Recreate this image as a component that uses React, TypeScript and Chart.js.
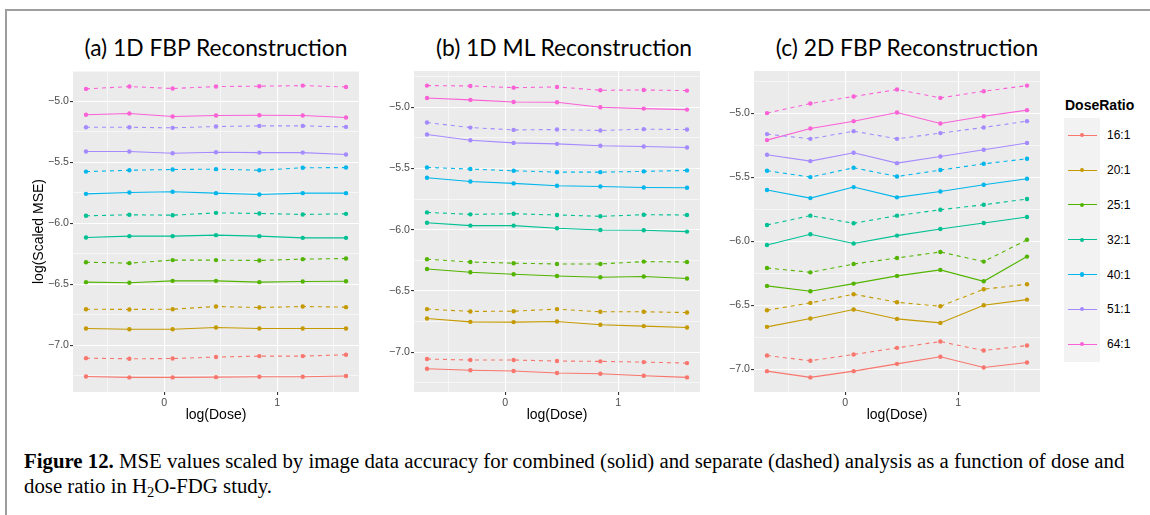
import React, { useEffect, useRef } from "react";
import { Chart, registerables } from "chart.js";

Chart.register(...registerables);

// Dose levels on the log scale (shared by all three reconstructions)
const logDose = [-0.693, -0.309, 0.074, 0.458, 0.842, 1.226, 1.609];

const doseRatios = ["16:1", "20:1", "25:1", "32:1", "40:1", "51:1", "64:1"];
const ratioColors = ["#F8766D", "#C49A00", "#53B400", "#00C094", "#00B6EB", "#A58AFF", "#FB61D7"];

// log(scaled MSE), one row per dose ratio (16:1 ... 64:1), one column per dose
// (a) 1D FBP reconstruction
const fbp1dCombined = [
  [-7.257, -7.265, -7.265, -7.263, -7.26, -7.26, -7.254],
  [-6.863, -6.869, -6.869, -6.855, -6.863, -6.863, -6.863],
  [-6.483, -6.488, -6.472, -6.472, -6.483, -6.477, -6.475],
  [-6.116, -6.105, -6.105, -6.097, -6.105, -6.119, -6.119],
  [-5.758, -5.747, -5.741, -5.752, -5.763, -5.752, -5.752],
  [-5.41, -5.41, -5.424, -5.416, -5.419, -5.419, -5.435],
  [-5.109, -5.098, -5.123, -5.115, -5.112, -5.115, -5.131],
];
const fbp1dSeparate = [
  [-7.107, -7.112, -7.11, -7.098, -7.09, -7.09, -7.079],
  [-6.705, -6.707, -6.705, -6.683, -6.691, -6.683, -6.688],
  [-6.319, -6.327, -6.302, -6.302, -6.305, -6.294, -6.289],
  [-5.938, -5.93, -5.933, -5.914, -5.919, -5.927, -5.922],
  [-5.575, -5.564, -5.558, -5.555, -5.564, -5.544, -5.542],
  [-5.211, -5.211, -5.216, -5.205, -5.2, -5.2, -5.208],
  [-4.896, -4.877, -4.893, -4.877, -4.874, -4.869, -4.88],
];

// (b) 1D ML reconstruction
const ml1dCombined = [
  [-7.136, -7.149, -7.155, -7.171, -7.177, -7.193, -7.207],
  [-6.726, -6.753, -6.755, -6.75, -6.777, -6.788, -6.799],
  [-6.321, -6.348, -6.364, -6.378, -6.389, -6.383, -6.399],
  [-5.943, -5.967, -5.967, -5.989, -6.003, -6.005, -6.016],
  [-5.576, -5.606, -5.622, -5.641, -5.647, -5.655, -5.658],
  [-5.223, -5.269, -5.291, -5.299, -5.315, -5.321, -5.329],
  [-4.924, -4.94, -4.957, -4.959, -5.0, -5.011, -5.019],
];
const ml1dSeparate = [
  [-7.057, -7.065, -7.065, -7.073, -7.076, -7.082, -7.09],
  [-6.649, -6.668, -6.666, -6.649, -6.671, -6.671, -6.677],
  [-6.242, -6.264, -6.274, -6.28, -6.28, -6.261, -6.264],
  [-5.859, -5.875, -5.87, -5.88, -5.891, -5.878, -5.88],
  [-5.492, -5.505, -5.519, -5.53, -5.53, -5.524, -5.516],
  [-5.125, -5.166, -5.185, -5.182, -5.19, -5.179, -5.182],
  [-4.823, -4.826, -4.84, -4.834, -4.861, -4.859, -4.864],
];

// (c) 2D FBP reconstruction
const fbp2dCombined = [
  [-7.013, -7.062, -7.013, -6.956, -6.901, -6.984, -6.945],
  [-6.667, -6.602, -6.532, -6.605, -6.636, -6.498, -6.454],
  [-6.347, -6.389, -6.329, -6.269, -6.222, -6.311, -6.118],
  [-6.027, -5.944, -6.016, -5.954, -5.902, -5.856, -5.809],
  [-5.598, -5.661, -5.575, -5.655, -5.609, -5.557, -5.51],
  [-5.322, -5.372, -5.307, -5.388, -5.336, -5.283, -5.231],
  [-5.208, -5.117, -5.06, -4.992, -5.078, -5.021, -4.974],
];
const fbp2dSeparate = [
  [-6.891, -6.932, -6.883, -6.831, -6.782, -6.852, -6.813],
  [-6.537, -6.48, -6.412, -6.475, -6.506, -6.373, -6.334],
  [-6.207, -6.241, -6.176, -6.129, -6.082, -6.157, -5.987],
  [-5.871, -5.798, -5.858, -5.798, -5.752, -5.713, -5.668],
  [-5.447, -5.497, -5.424, -5.492, -5.442, -5.393, -5.354],
  [-5.161, -5.198, -5.138, -5.198, -5.153, -5.109, -5.06],
  [-4.997, -4.922, -4.867, -4.813, -4.878, -4.826, -4.782],
];

const panelTitles = ["(a) 1D FBP Reconstruction", "(b) 1D ML Reconstruction", "(c) 2D FBP Reconstruction"];

const SANS = '"Liberation Sans", Arial, sans-serif';

// 5% padding on each side of the data range
function expandRange(values: number[]): [number, number] {
  const lo = Math.min(...values);
  const hi = Math.max(...values);
  const pad = (hi - lo) * 0.05;
  return [lo - pad, hi + pad];
}

const near = (v: number, step: number) => Math.abs(v / step - Math.round(v / step)) < 1e-6;

const panelBackground = {
  id: "panelBackground",
  beforeDraw(chart: any) {
    const { ctx, chartArea } = chart;
    ctx.save();
    ctx.fillStyle = "#ebebeb";
    ctx.fillRect(chartArea.left, chartArea.top, chartArea.width, chartArea.height);
    ctx.restore();
  },
};

function buildChart(
  canvas: HTMLCanvasElement,
  combined: number[][],
  separate: number[][],
  axisWidth: number,
  yTitle: string | null
) {
  const [xMin, xMax] = expandRange(logDose);
  const [yMin, yMax] = expandRange([...combined.flat(), ...separate.flat()]);

  const datasets: any[] = [];
  doseRatios.forEach((label, i) => {
    const color = ratioColors[i];
    const common = {
      borderColor: color,
      backgroundColor: color,
      pointBackgroundColor: color,
      pointBorderWidth: 0,
      pointRadius: 2.2,
      borderWidth: 1.1,
      tension: 0,
      showLine: true,
    };
    datasets.push({
      ...common,
      label: `${label} combined`,
      data: logDose.map((x, j) => ({ x, y: combined[i][j] })),
    });
    datasets.push({
      ...common,
      label: `${label} separate`,
      borderDash: [4, 4],
      data: logDose.map((x, j) => ({ x, y: separate[i][j] })),
    });
  });

  const gridFor = (step: number) => ({
    color: "#ffffff",
    lineWidth: (c: any) => (c.tick && near(c.tick.value, step) ? 1.1 : 0.55),
    tickColor: (c: any) => (c.tick && near(c.tick.value, step) ? "#333333" : "rgba(0,0,0,0)"),
    tickWidth: 1.1,
    tickLength: 3,
    drawTicks: true,
  });

  return new Chart(canvas, {
    type: "line",
    data: { datasets },
    plugins: [panelBackground],
    options: {
      animation: false,
      responsive: false,
      maintainAspectRatio: false,
      layout: { padding: { top: 11, right: 0, bottom: 0, left: 0 } },
      plugins: { legend: { display: false }, tooltip: { enabled: false } },
      scales: {
        x: {
          type: "linear",
          min: xMin,
          max: xMax,
          border: { display: false },
          grid: gridFor(1),
          ticks: {
            stepSize: 0.5,
            includeBounds: false,
            autoSkip: false,
            maxRotation: 0,
            maxTicksLimit: 100,
            padding: 2,
            color: "#4d4d4d",
            font: { family: SANS, size: 10.6 },
            callback: (v: any) => (near(Number(v), 1) ? String(Math.round(Number(v))) : ""),
          },
          title: {
            display: true,
            text: "log(Dose)",
            color: "#000000",
            font: { family: SANS, size: 14 },
            padding: { top: 0, bottom: 0 },
          },
          afterFit: (s: any) => {
            s.height = 32;
          },
        },
        y: {
          type: "linear",
          min: yMin,
          max: yMax,
          border: { display: false },
          grid: gridFor(0.5),
          ticks: {
            stepSize: 0.25,
            includeBounds: false,
            autoSkip: false,
            maxTicksLimit: 100,
            padding: 1,
            color: "#4d4d4d",
            font: { family: SANS, size: 10.6 },
            callback: (v: any) =>
              near(Number(v), 0.5) ? Number(v).toFixed(1).replace("-", "\u2212") : "",
          },
          title: yTitle
            ? {
                display: true,
                text: yTitle,
                color: "#000000",
                font: { family: SANS, size: 14 },
                padding: { top: 10.6, bottom: 0 },
              }
            : { display: false },
          afterFit: (s: any) => {
            s.width = axisWidth;
          },
        },
      },
    } as any,
  });
}

const panels = [
  { left: 20, axisWidth: 53, combined: fbp1dCombined, separate: fbp1dSeparate, yTitle: "log(Scaled MSE)", titleCenter: 216 },
  { left: 374, axisWidth: 40, combined: ml1dCombined, separate: ml1dSeparate, yTitle: null, titleCenter: 564 },
  { left: 714, axisWidth: 40, combined: fbp2dCombined, separate: fbp2dSeparate, yTitle: null, titleCenter: 907 },
];
const PLOT_WIDTH = 290;
const CANVAS_TOP = 60;
const CANVAS_HEIGHT = 364;

export default function App() {
  const refs = [useRef<HTMLCanvasElement>(null), useRef<HTMLCanvasElement>(null), useRef<HTMLCanvasElement>(null)];

  useEffect(() => {
    const charts = panels.map((p, k) =>
      buildChart(refs[k].current as HTMLCanvasElement, p.combined, p.separate, p.axisWidth, p.yTitle)
    );
    return () => charts.forEach((c) => c.destroy());
  }, []);

  return (
    <div
      style={{
        position: "absolute",
        left: 0,
        top: 0,
        width: 1150,
        height: 515,
        overflow: "hidden",
        background: "#ffffff",
      }}
    >
      {/* frame */}
      <div
        style={{
          position: "absolute",
          left: 5,
          top: 9,
          width: 1200,
          height: 600,
          borderTop: "2px solid #9e9e9e",
          borderLeft: "2px solid #9e9e9e",
        }}
      />

      {panels.map((p, k) => (
        <div
          key={`t${k}`}
          style={{
            position: "absolute",
            left: p.titleCenter,
            top: 46.5,
            transform: "translate(-50%, -50%)",
            whiteSpace: "nowrap",
            fontFamily: "Lato, sans-serif",
            fontSize: 22.8,
            lineHeight: "28px",
            color: "#000000",
          }}
        >
          {panelTitles[k]}
        </div>
      ))}

      {panels.map((p, k) => (
        <canvas
          key={`c${k}`}
          ref={refs[k]}
          width={p.axisWidth + PLOT_WIDTH}
          height={CANVAS_HEIGHT}
          style={{
            position: "absolute",
            left: p.left,
            top: CANVAS_TOP,
            width: p.axisWidth + PLOT_WIDTH,
            height: CANVAS_HEIGHT,
          }}
        />
      ))}

      {/* legend */}
      <div
        style={{
          position: "absolute",
          left: 1065,
          top: 97,
          fontFamily: SANS,
          fontWeight: "bold",
          fontSize: 14,
          lineHeight: "16px",
          color: "#000000",
        }}
      >
        DoseRatio
      </div>
      <div
        style={{
          position: "absolute",
          left: 1064,
          top: 118,
          width: 36,
          height: 244,
          background: "#f2f2f2",
        }}
      />
      {doseRatios.map((label, i) => {
        const cy = 135.3 + i * 34.8;
        return (
          <React.Fragment key={`l${i}`}>
            <div
              style={{
                position: "absolute",
                left: 1068,
                top: cy - 0.55,
                width: 29,
                height: 1.1,
                background: ratioColors[i],
              }}
            />
            <div
              style={{
                position: "absolute",
                left: 1082 - 2.2,
                top: cy - 2.2,
                width: 4.4,
                height: 4.4,
                borderRadius: "50%",
                background: ratioColors[i],
              }}
            />
            <div
              style={{
                position: "absolute",
                left: 1107,
                top: cy - 8,
                fontFamily: SANS,
                fontSize: 12,
                lineHeight: "16px",
                color: "#000000",
              }}
            >
              {label}
            </div>
          </React.Fragment>
        );
      })}

      {/* caption */}
      <div
        style={{
          position: "absolute",
          left: 24,
          top: 449,
          fontFamily: '"Liberation Serif", serif',
          fontSize: 20.8,
          lineHeight: "24.5px",
          color: "#000000",
          whiteSpace: "nowrap",
        }}
      >
        <div>
          <b>Figure 12.</b> MSE values scaled by image data accuracy for combined (solid) and separate (dashed)
          analysis as a function of dose and
        </div>
        <div>
          dose ratio in H
          <span style={{ fontSize: "0.7em", verticalAlign: "-0.3em", lineHeight: 0 }}>2</span>O-FDG study.
        </div>
      </div>
    </div>
  );
}
